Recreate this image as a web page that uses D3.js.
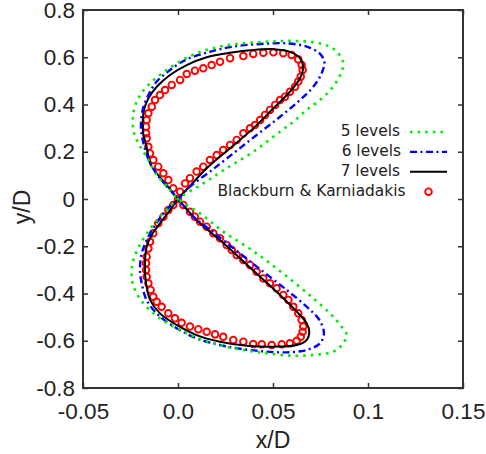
<!DOCTYPE html>
<html>
<head>
<meta charset="utf-8">
<script src="https://cdn.jsdelivr.net/npm/d3@7/dist/d3.min.js"></script>
<style>
  html, body { margin: 0; padding: 0; background: #fff; }
  svg { display: block; }
</style>
</head>
<body>
<svg id="chart" width="486" height="454"></svg>
<script>
// ---------- data ----------
const xTicks = [-0.05, 0, 0.05, 0.1, 0.15];
const xTickLabels = ["-0.05", "0.0", "0.05", "0.1", "0.15"];
const yTicks = [-0.8, -0.6, -0.4, -0.2, 0, 0.2, 0.4, 0.6, 0.8];
const yTickLabels = ["-0.8", "-0.6", "-0.4", "-0.2", "0", "0.2", "0.4", "0.6", "0.8"];

const seriesNames = ["5 levels", "6 levels", "7 levels", "Blackburn & Karniadakis"];

// closed figure-eight paths, [x/D, y/D]
const levels5 = [
  [0,0],[-0.0060,0.055],[-0.0110,0.100],[-0.0165,0.179],[-0.0209,0.236],[-0.0235,0.292],
  [-0.0235,0.363],[-0.0209,0.426],[-0.0165,0.475],[-0.0095,0.525],[-0.0007,0.574],[0.0098,0.617],
  [0.0221,0.645],[0.0344,0.659],[0.0484,0.666],[0.0607,0.669],[0.0747,0.659],[0.0826,0.631],
  [0.0870,0.577],[0.0858,0.533],[0.0816,0.475],[0.0747,0.419],[0.0677,0.377],[0.0607,0.327],
  [0.0537,0.285],[0.0396,0.200],[0.0256,0.130],[0.0133,0.066],
  [0,0],[-0.0077,-0.061],[-0.0138,-0.117],[-0.0191,-0.181],[-0.0235,-0.258],[-0.0244,-0.329],
  [-0.0226,-0.385],[-0.0174,-0.449],[-0.0095,-0.505],[0.0011,-0.554],[0.0133,-0.597],[0.0256,-0.625],
  [0.0396,-0.646],[0.0467,-0.653],[0.0589,-0.663],[0.0712,-0.660],[0.0818,-0.646],[0.0862,-0.618],
  [0.0888,-0.576],[0.0853,-0.533],[0.0800,-0.484],[0.0712,-0.420],[0.0607,-0.350],[0.0484,-0.272],
  [0.0362,-0.202],[0.0238,-0.138],[0.0116,-0.061]
];

const levels6 = [
  [0,0],[-0.0060,0.055],[-0.0115,0.109],[-0.0156,0.170],[-0.0183,0.240],[-0.0195,0.306],
  [-0.0186,0.377],[-0.0156,0.440],[-0.0112,0.497],[-0.0042,0.546],[0.0046,0.591],[0.0168,0.623],
  [0.0291,0.645],[0.0432,0.656],[0.0572,0.659],[0.0677,0.645],[0.0744,0.617],[0.0770,0.581],
  [0.0756,0.532],[0.0712,0.475],[0.0642,0.419],[0.0537,0.348],[0.0414,0.271],[0.0291,0.193],
  [0.0168,0.116],[0.0063,0.052],
  [0,0],[-0.0060,-0.045],[-0.0120,-0.110],[-0.0165,-0.175],[-0.0191,-0.230],[-0.0200,-0.301],
  [-0.0191,-0.357],[-0.0165,-0.428],[-0.0104,-0.491],[-0.0007,-0.547],[0.0098,-0.590],[0.0221,-0.618],
  [0.0344,-0.636],[0.0467,-0.646],[0.0572,-0.649],[0.0677,-0.639],[0.0747,-0.611],[0.0768,-0.568],
  [0.0744,-0.512],[0.0677,-0.456],[0.0572,-0.385],[0.0449,-0.308],[0.0326,-0.230],[0.0204,-0.152],
  [0.0081,-0.075]
];

const levels7 = [
  [0,0],[-0.0059,0.059],[-0.0112,0.109],[-0.0147,0.151],[-0.0165,0.221],[-0.0183,0.278],
  [-0.0186,0.320],[-0.0179,0.377],[-0.0156,0.426],[-0.0112,0.475],[-0.0042,0.525],[0.0046,0.567],
  [0.0151,0.600],[0.0274,0.619],[0.0396,0.631],[0.0502,0.634],[0.0589,0.623],[0.0642,0.596],
  [0.0659,0.560],[0.0642,0.511],[0.0589,0.454],[0.0502,0.384],[0.0396,0.299],[0.0274,0.215],
  [0.0151,0.130],[0.0063,0.055],
  [0,0],[-0.0042,-0.047],[-0.0095,-0.103],[-0.0138,-0.152],[-0.0165,-0.202],[-0.0174,-0.287],
  [-0.0168,-0.357],[-0.0147,-0.427],[-0.0095,-0.484],[-0.0007,-0.533],[0.0098,-0.576],[0.0221,-0.604],
  [0.0362,-0.621],[0.0502,-0.625],[0.0625,-0.618],[0.0677,-0.597],[0.0691,-0.562],[0.0677,-0.526],
  [0.0625,-0.477],[0.0537,-0.406],[0.0432,-0.329],[0.0326,-0.251],[0.0221,-0.174],[0.0098,-0.089]
];

const blackburn = [
  [0,0],[-0.0025,0.045],[-0.0051,0.080],[-0.0077,0.109],[-0.0104,0.137],[-0.0130,0.165],
  [-0.0147,0.193],[-0.0156,0.221],[-0.0165,0.257],[-0.0168,0.278],[-0.0168,0.306],[-0.0165,0.334],
  [-0.0156,0.363],[-0.0138,0.391],[-0.0121,0.419],[-0.0095,0.440],[-0.0068,0.461],[-0.0033,0.483],
  [0.0011,0.504],[0.0046,0.529],[0.0089,0.543],[0.0133,0.553],[0.0177,0.567],[0.0221,0.581],
  [0.0274,0.596],[0.0344,0.605],[0.0396,0.614],[0.0449,0.619],[0.0502,0.621],[0.0554,0.617],
  [0.0598,0.610],[0.0633,0.591],[0.0651,0.567],[0.0656,0.546],[0.0646,0.518],[0.0633,0.497],
  [0.0616,0.475],[0.0589,0.454],[0.0563,0.433],[0.0537,0.419],[0.0511,0.398],[0.0484,0.377],
  [0.0458,0.356],[0.0432,0.334],[0.0405,0.313],[0.0379,0.299],[0.0344,0.278],[0.0309,0.250],
  [0.0274,0.229],[0.0238,0.207],[0.0204,0.186],[0.0168,0.165],[0.0133,0.137],[0.0098,0.116],
  [0.0063,0.088],[0.0037,0.066],[0.0011,0.031],
  [0.0028,-0.025],[0.0063,-0.054],[0.0089,-0.075],[0.0116,-0.096],[0.0151,-0.117],[0.0186,-0.145],
  [0.0221,-0.166],[0.0256,-0.195],[0.0283,-0.216],[0.0309,-0.237],[0.0344,-0.258],[0.0379,-0.279],
  [0.0414,-0.308],[0.0449,-0.336],[0.0484,-0.357],[0.0519,-0.378],[0.0554,-0.406],[0.0581,-0.427],
  [0.0607,-0.456],[0.0633,-0.484],[0.0651,-0.512],[0.0659,-0.540],[0.0656,-0.562],[0.0646,-0.583],
  [0.0625,-0.600],[0.0589,-0.611],[0.0546,-0.615],[0.0493,-0.618],[0.0441,-0.615],[0.0396,-0.614],
  [0.0344,-0.604],[0.0291,-0.597],[0.0238,-0.583],[0.0195,-0.573],[0.0151,-0.562],[0.0107,-0.551],
  [0.0063,-0.540],[0.0019,-0.524],[-0.0016,-0.505],[-0.0051,-0.484],[-0.0086,-0.456],[-0.0112,-0.435],
  [-0.0130,-0.414],[-0.0144,-0.385],[-0.0156,-0.357],[-0.0165,-0.329],[-0.0168,-0.301],[-0.0168,-0.272],
  [-0.0165,-0.244],[-0.0156,-0.209],[-0.0147,-0.181],[-0.0130,-0.145],[-0.0104,-0.103],[-0.0077,-0.075],
  [-0.0051,-0.047],[-0.0025,-0.025]
];

// ---------- layout ----------
const W = 486, H = 454;
const L = 83, R = 463, T = 10, B = 388;
const svg = d3.select("#chart");

const x = d3.scaleLinear().domain([-0.05, 0.15]).range([L, R]);
const y = d3.scaleLinear().domain([-0.8, 0.8]).range([B, T]);

const tickFont = "'Liberation Sans', Arial, Helvetica, sans-serif";
const legendFont = "'DejaVu Sans', Verdana, sans-serif";

// axes (inward ticks)
const gB = svg.append("g").attr("transform", `translate(0,${B})`)
  .call(d3.axisBottom(x).tickValues(xTicks).tickSizeInner(-5).tickSizeOuter(0).tickPadding(15)
    .tickFormat((d, i) => xTickLabels[i]));
const gL = svg.append("g").attr("transform", `translate(${L},0)`)
  .call(d3.axisLeft(y).tickValues(yTicks).tickSizeInner(-5).tickSizeOuter(0).tickPadding(8)
    .tickFormat((d, i) => yTickLabels[i]));
const gTop = svg.append("g").attr("transform", `translate(0,${T})`)
  .call(d3.axisTop(x).tickValues(xTicks).tickSizeInner(-5).tickSizeOuter(0).tickFormat(""));
const gR = svg.append("g").attr("transform", `translate(${R},0)`)
  .call(d3.axisRight(y).tickValues(yTicks).tickSizeInner(-5).tickSizeOuter(0).tickFormat(""));

[gB, gL, gTop, gR].forEach(g => {
  g.select(".domain").remove();
  g.selectAll(".tick line").attr("stroke", "#333").attr("stroke-width", 1.5);
  g.selectAll(".tick text").attr("fill", "#222").style("font-family", tickFont).style("font-size", "22.5px");
});

// series
const line = d3.line().x(d => x(d[0])).y(d => y(d[1])).curve(d3.curveCatmullRomClosed.alpha(0.5));

const plot = svg.append("g");
plot.selectAll("circle.bk").data(blackburn).enter().append("circle")
  .attr("class", "bk")
  .attr("cx", d => x(d[0])).attr("cy", d => y(d[1])).attr("r", 3.3)
  .attr("fill", "none").attr("stroke", "#ff0000").attr("stroke-width", 1.9);

plot.append("path").datum(levels7).attr("d", line)
  .attr("fill", "none").attr("stroke", "#000").attr("stroke-width", 2);
plot.append("path").datum(levels6).attr("d", line)
  .attr("fill", "none").attr("stroke", "#0000ff").attr("stroke-width", 2.4)
  .attr("stroke-dasharray", "7,3.5,2,3.5");
plot.append("path").datum(levels5).attr("d", line)
  .attr("fill", "none").attr("stroke", "#00ee00").attr("stroke-width", 2.6)
  .attr("stroke-dasharray", "2.6,5");

// frame
svg.append("rect").attr("x", L).attr("y", T).attr("width", R - L).attr("height", B - T)
  .attr("fill", "none").attr("stroke", "#333").attr("stroke-width", 2);

// axis titles
svg.append("text").attr("x", x(0.05)).attr("y", 448).attr("text-anchor", "middle")
  .style("font-family", tickFont).style("font-size", "23px").attr("fill", "#222").text("x/D");
svg.append("text").attr("transform", "translate(30,207) rotate(-90)").attr("text-anchor", "middle")
  .style("font-family", tickFont).style("font-size", "23px").attr("fill", "#222").text("y/D");

// legend
const legX1 = 410, legX2 = 447;
const textEnd = [400, 401, 400, 405.5];
const styles = [
  {stroke: "#00ee00", w: 2.6, dash: "2.6,5"},
  {stroke: "#0000ff", w: 2.4, dash: "7,3.5,2,3.5"},
  {stroke: "#000", w: 2, dash: null},
  null
];
seriesNames.forEach((name, i) => {
  const ry = 132 + i * 19.9;
  svg.append("text").attr("x", textEnd[i]).attr("y", ry + 4).attr("text-anchor", "end")
    .style("font-family", legendFont).style("font-size", "15.4px").attr("fill", "#222").text(name);
  const s = styles[i];
  if (s) {
    const ln = svg.append("line").attr("x1", legX1).attr("x2", legX2).attr("y1", ry).attr("y2", ry)
      .attr("stroke", s.stroke).attr("stroke-width", s.w);
    if (s.dash) ln.attr("stroke-dasharray", s.dash);
  } else {
    svg.append("circle").attr("cx", 428.5).attr("cy", ry).attr("r", 3.3)
      .attr("fill", "none").attr("stroke", "#ff0000").attr("stroke-width", 1.9);
  }
});
</script>
</body>
</html>
